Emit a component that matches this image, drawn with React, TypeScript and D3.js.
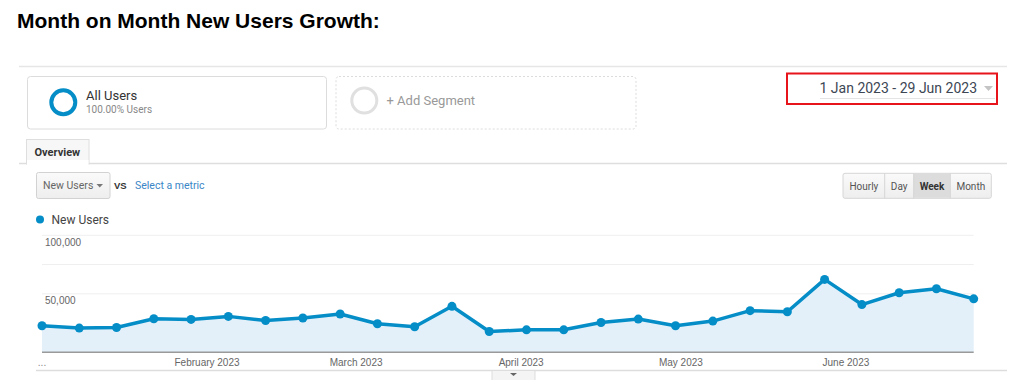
import React from "react";
import * as d3 from "d3";

// ---- data ----
const weekStarts = [
  "2023-01-01", "2023-01-08", "2023-01-15", "2023-01-22", "2023-01-29",
  "2023-02-05", "2023-02-12", "2023-02-19", "2023-02-26", "2023-03-05",
  "2023-03-12", "2023-03-19", "2023-03-26", "2023-04-02", "2023-04-09",
  "2023-04-16", "2023-04-23", "2023-04-30", "2023-05-07", "2023-05-14",
  "2023-05-21", "2023-05-28", "2023-06-04", "2023-06-11", "2023-06-18",
  "2023-06-25",
];
const newUsers = [
  22700, 20700, 21200, 28700, 28100, 30700, 27200, 29300, 32700, 24400,
  21800, 39300, 17800, 19200, 19200, 25500, 28400, 22700, 26700, 35600,
  34700, 62300, 40800, 50900, 54300, 45700,
];
const monthTicks = ["2023-02-01", "2023-03-01", "2023-04-01", "2023-05-01", "2023-06-01"];
const yLabelTicks = [50000, 100000];
const yGridTicks = [50000, 75000, 100000];
const granularity = ["Hourly", "Day", "Week", "Month"];
const selectedGranularity = "Week";

const title = "Month on Month New Users Growth:";
const dateRange = "1 Jan 2023 - 29 Jun 2023";

const BLUE = "#058dc7";
const UI = "Roboto, 'Liberation Sans', Arial, sans-serif";
const ARIAL = "'Liberation Sans', Arial, sans-serif";

export default function App() {
  const parse = d3.utcParse("%Y-%m-%d");
  const dates = weekStarts.map((s) => parse(s) as Date);
  const data = dates.map((d, i) => ({ d, v: newUsers[i] }));

  const x = d3.scaleUtc().domain([dates[0], dates[dates.length - 1]]).range([42, 973.7]);
  const y = d3.scaleLinear().domain([0, 100000]).range([352.3, 235.3]);
  const fmtMonth = d3.utcFormat("%B %Y");
  const fmtNum = d3.format(",");

  const line = d3.line<{ d: Date; v: number }>().x((p) => x(p.d)).y((p) => y(p.v));
  const area = d3
    .area<{ d: Date; v: number }>()
    .x((p) => x(p.d))
    .y0(y(0))
    .y1((p) => y(p.v));

  const [x0, x1] = x.range();

  // granularity buttons
  const btnX = [843, 884.7, 913.7, 950.3, 991.3];

  return (
    <svg
      width={1024}
      height={380}
      style={{ position: "absolute", left: 0, top: 0, background: "#fff" }}
    >
      {/* title */}
      <text x={17} y={27.8} fontFamily={ARIAL} fontWeight="bold" fontSize={21} fill="#000">
        {title}
      </text>
      <line x1={19} x2={1007} y1={66.5} y2={66.5} stroke="#e6e6e6" strokeWidth={1.5} />

      {/* All Users segment */}
      <rect x={27.5} y={76.5} width={299} height={52.5} rx={3} fill="#fff" stroke="#dcdcdc" />
      <circle cx={63.3} cy={102.3} r={12} fill="none" stroke={BLUE} strokeWidth={4} />
      <text x={86} y={100} fontFamily={UI} fontSize={13} fill="#333">All Users</text>
      <text x={86} y={112.5} fontFamily={UI} fontSize={10} fill="#888">100.00% Users</text>

      {/* Add Segment */}
      <rect x={336} y={76.5} width={300} height={52.5} rx={3} fill="#fff" stroke="#dcdcdc" strokeDasharray="2,2" />
      <circle cx={364.3} cy={100.5} r={12.5} fill="none" stroke="#e0e0e0" strokeWidth={3} />
      <text x={386.5} y={104.5} fontFamily={UI} fontSize={13} fill="#999">+ Add Segment</text>

      {/* date range */}
      <rect x={787} y={73.5} width={210} height={30.5} fill="#fff" stroke="#e8141b" strokeWidth={2} />
      <line x1={820} x2={995} y1={98.5} y2={98.5} stroke="#e4e4e4" />
      <text x={977} y={92.5} textAnchor="end" fontFamily={UI} fontSize={14} fill="#3c4654">
        {dateRange}
      </text>
      <path d="M984,86 L993,86 L988.5,91 Z" fill="#c4c4c4" />

      {/* tab */}
      <line x1={19} x2={1007} y1={163.5} y2={163.5} stroke="#dedede" strokeWidth={1.5} />
      <rect x={26.5} y={139.5} width={62.5} height={24.5} fill="#f7f7f7" stroke="#dedede" />
      <rect x={27} y={160} width={61.5} height={5} fill="#fff" />
      <text x={34.5} y={155.5} fontFamily={UI} fontWeight="bold" fontSize={11} fill="#333">Overview</text>

      {/* metric dropdown */}
      <defs>
        <linearGradient id="btnGrad" x1="0" x2="0" y1="0" y2="1">
          <stop offset="0" stopColor="#fafafa" />
          <stop offset="1" stopColor="#eeeeee" />
        </linearGradient>
      </defs>
      <rect x={36.5} y={172.5} width={73.5} height={26} rx={2} fill="url(#btnGrad)" stroke="#d2d2d2" />
      <text x={43} y={189} fontFamily={UI} fontSize={10.5} fill="#666">New Users</text>
      <path d="M96.5,184 L103,184 L99.75,187.5 Z" fill="#777" />
      <text x={114} y={188.5} fontFamily={ARIAL} fontWeight="bold" fontSize={9.5} fill="#333">VS</text>
      <text x={135} y={189} fontFamily={UI} fontSize={10.5} fill="#3b86c6">Select a metric</text>

      {/* granularity buttons */}
      <rect x={843} y={173.3} width={148.3} height={25} rx={2} fill="url(#btnGrad)" stroke="#d6d6d6" />
      {granularity.map((g, i) => {
        const a = btnX[i];
        const b = btnX[i + 1];
        const sel = g === selectedGranularity;
        return (
          <g key={g}>
            {sel && <rect x={a} y={173.8} width={b - a} height={24} fill="#dcdcdc" />}
            {i > 0 && <line x1={a} x2={a} y1={173.3} y2={198.3} stroke="#d6d6d6" />}
            <text
              x={(a + b) / 2}
              y={189.5}
              textAnchor="middle"
              fontFamily={UI}
              fontSize={10}
              fontWeight={sel ? "bold" : "normal"}
              fill={sel ? "#333" : "#555"}
            >
              {g}
            </text>
          </g>
        );
      })}

      {/* legend */}
      <circle cx={40} cy={219.5} r={4} fill={BLUE} />
      <text x={51.5} y={224} fontFamily={UI} fontSize={12} fill="#444">New Users</text>

      {/* gridlines */}
      {yGridTicks.map((t) => (
        <line key={t} x1={x0} x2={x1} y1={y(t)} y2={y(t)} stroke="#efefef" />
      ))}
      {yLabelTicks.map((t) => (
        <text key={t} x={45} y={y(t) + 10.5} fontFamily={ARIAL} fontSize={10} fill="#666">
          {fmtNum(t)}
        </text>
      ))}

      {/* area + line */}
      <path d={area(data) ?? ""} fill="#e3f0fa" />
      <line x1={x0} x2={x1} y1={y(0)} y2={y(0)} stroke="#9a9a9a" strokeWidth={1.5} />
      <path d={line(data) ?? ""} fill="none" stroke={BLUE} strokeWidth={3.5} strokeLinejoin="round" />
      {data.map((p, i) => (
        <circle key={i} cx={x(p.d)} cy={y(p.v)} r={4.5} fill={BLUE} />
      ))}

      {/* x-axis labels */}
      <text x={42} y={366} textAnchor="middle" fontFamily={ARIAL} fontSize={10} fill="#888">...</text>
      {monthTicks.map((m) => {
        const d = parse(m) as Date;
        return (
          <text key={m} x={x(d)} y={366} textAnchor="middle" fontFamily={ARIAL} fontSize={10} fill="#666">
            {fmtMonth(d)}
          </text>
        );
      })}

      {/* bottom scroller */}
      <line x1={36} x2={1007} y1={370.5} y2={370.5} stroke="#dddddd" strokeWidth={1.5} />
      <rect x={492} y={370.5} width={43} height={12} fill="#f4f4f4" stroke="#dddddd" />
      <path d="M510,373 L517,373 L513.5,376 Z" fill="#666" />
    </svg>
  );
}
